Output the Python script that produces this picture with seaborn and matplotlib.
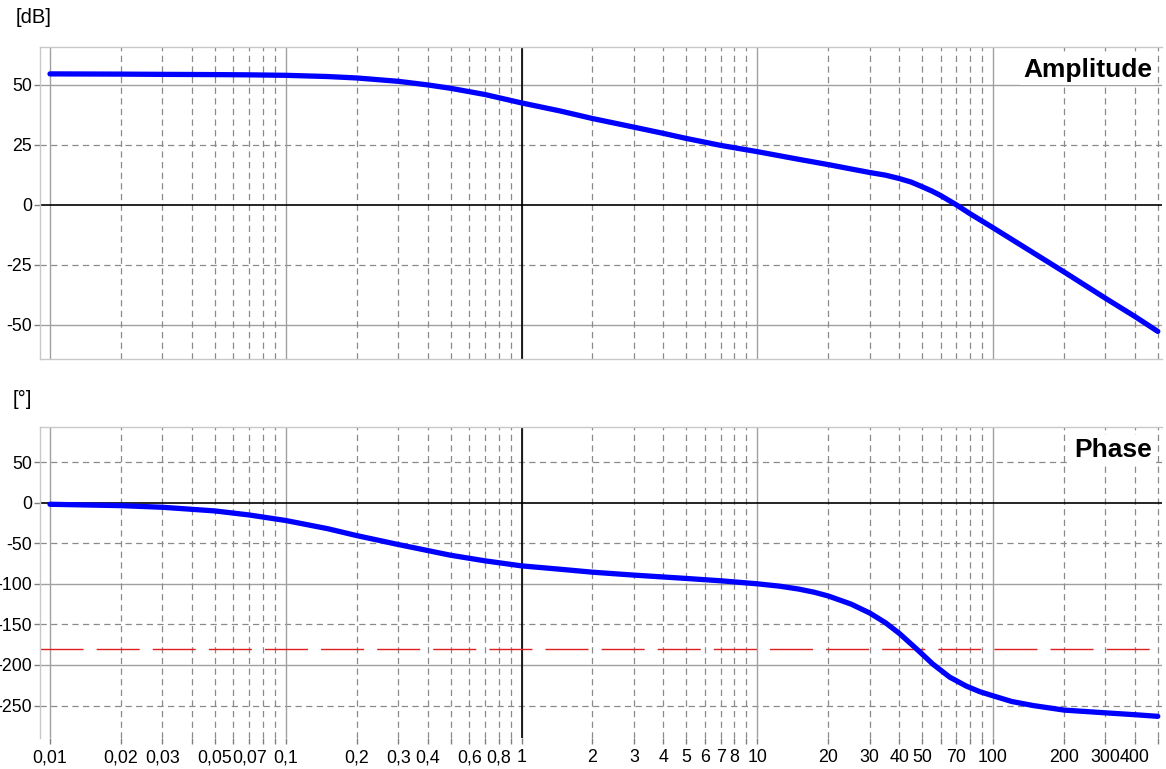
import numpy as np
import pandas as pd
import matplotlib
matplotlib.use("Agg")
import matplotlib.pyplot as plt
from matplotlib.ticker import LogLocator, FuncFormatter, MultipleLocator, NullFormatter
import seaborn as sns

# values
freq_amp = [0.01, 0.02, 0.03, 0.05, 0.07, 0.1, 0.15, 0.2, 0.3, 0.4, 0.5, 0.7, 1, 1.45, 2, 3, 4, 5, 7,
            10, 15, 20, 30, 35, 40, 45, 50, 55, 60, 70, 80, 100, 200, 300, 400, 500]
amp_db = [54.6, 54.5, 54.4, 54.3, 54.2, 54.0, 53.5, 52.9, 51.5, 50.0, 48.6, 46.0, 42.5, 39.2, 36.0, 32.4,
          29.8, 27.7, 24.8, 22.2, 19.0, 16.8, 13.5, 12.4, 11.0, 9.5, 7.6, 5.8, 3.9, 0.0, -3.7, -9.5,
          -27.9, -38.9, -46.5, -52.7]

freq_phase = [0.01, 0.02, 0.03, 0.05, 0.07, 0.1, 0.15, 0.2, 0.3, 0.5, 0.7, 1, 1.45, 2, 3, 5, 7,
              10, 12.5, 15, 17.5, 20, 25, 30, 35, 40, 47.3, 55.6, 65.5, 77, 88, 100, 120, 148, 200,
              300, 400, 500]
phase_deg = [-2, -3.7, -5.7, -10.2, -15.2, -22, -32, -40.6, -51.6, -64.8, -71.7, -77.9, -82, -85.7, -89.3,
             -93.4, -96.3, -100, -103, -106.5, -110.5, -115, -125, -136, -148, -161, -180, -199, -215,
             -226, -233, -238, -245, -250, -255.6, -259, -261.3, -263.3]

# x tick labels that are shown (the others stay as plain ticks)
x_labels_shown = [0.01, 0.02, 0.03, 0.05, 0.07, 0.1, 0.2, 0.3, 0.4, 0.6, 0.8, 1, 2, 3, 4, 5, 6, 7, 8,
                  10, 20, 30, 40, 50, 70, 100, 200, 300, 400]
phase_crossover = -180

amp_df = pd.DataFrame({"f": freq_amp, "dB": amp_db})
phase_df = pd.DataFrame({"f": freq_phase, "deg": phase_deg})

sns.set_style("white")
plt.rcParams["font.family"] = ["Liberation Sans", "DejaVu Sans"]
plt.rcParams["axes.unicode_minus"] = False
plt.rcParams["text.color"] = "black"

fig = plt.figure(figsize=(11.66, 7.69), dpi=100)
ax_a = fig.add_axes([0.03431, 0.53316, 0.96226, 0.40572])
ax_p = fig.add_axes([0.03431, 0.04031, 0.96226, 0.40442])

grid_solid = "#a0a0a0"
grid_dash = "#8a8a8a"


def fmt_x(v, pos):
    for s in x_labels_shown:
        if abs(v - s) / s < 1e-6:
            return f"{s:g}".replace(".", ",")
    return ""


def style_axes(ax, ylim, step, solid_every, show_x):
    ax.set_xscale("log")
    ax.set_xlim(0.00907, 521)
    ax.set_ylim(*ylim)
    ax.xaxis.set_major_locator(LogLocator(base=10))
    ax.xaxis.set_minor_locator(LogLocator(base=10, subs=np.arange(2, 10)))
    ax.yaxis.set_major_locator(MultipleLocator(step))
    ax.grid(True, which="major", axis="x", color=grid_solid, lw=1, ls="-")
    ax.grid(True, which="minor", axis="x", color=grid_dash, lw=0.9, ls=(0, (5, 3.5)))
    ax.set_axisbelow(True)
    for v in ax.get_yticks():
        if ylim[0] < v < ylim[1] and v != 0:
            if v % solid_every == 0:
                ax.axhline(v, color=grid_solid, lw=1, zorder=0.5)
            else:
                ax.axhline(v, color=grid_dash, lw=0.9, ls=(0, (5, 3.5)), zorder=0.5)
    ax.axhline(0, color="black", lw=1.2, zorder=1)
    ax.axvline(1, color="black", lw=1.2, zorder=1)
    for side in ["top", "left", "bottom"]:
        ax.spines[side].set_color("#c8c8c8")
        ax.spines[side].set_linewidth(1)
    ax.spines["right"].set_visible(False)
    ax.tick_params(axis="y", which="both", left=True, length=4.5, width=1, color="#808080",
                   labelsize=12.8, pad=1, labelcolor="black")
    if show_x:
        ax.spines["bottom"].set_visible(False)
        ax.xaxis.set_major_formatter(FuncFormatter(fmt_x))
        ax.xaxis.set_minor_formatter(FuncFormatter(fmt_x))
        ax.tick_params(axis="x", which="both", bottom=True, length=4, width=1, color="#808080",
                       labelsize=12.8, pad=4, labelcolor="black")
    else:
        ax.xaxis.set_major_formatter(NullFormatter())
        ax.xaxis.set_minor_formatter(NullFormatter())
        ax.tick_params(axis="x", which="both", bottom=False, length=0)
    ax.set_xlabel("")
    ax.set_ylabel("")


# amplitude
sns.lineplot(data=amp_df, x="f", y="dB", ax=ax_a, color="#0000ff", linewidth=3.8,
             estimator=None, sort=False, solid_capstyle="round", solid_joinstyle="round", zorder=3)
style_axes(ax_a, (-64.2, 65.8), 25, 50, False)
ax_a.text(0.991, 0.904, "Amplitude", transform=ax_a.transAxes, ha="right", va="baseline",
          fontsize=19, fontweight="bold", color="black", zorder=4,
          bbox=dict(boxstyle="square,pad=0.12", fc="white", ec="none"))

# phase
sns.lineplot(data=phase_df, x="f", y="deg", ax=ax_p, color="#0000ff", linewidth=3.8,
             estimator=None, sort=False, solid_capstyle="round", solid_joinstyle="round", zorder=3)
style_axes(ax_p, (-290, 93.2), 50, 100, True)
ax_p.axhline(phase_crossover, color="#e02020", lw=1, ls=(0, (31, 9.4)), zorder=2)
ax_p.text(0.991, 0.903, "Phase", transform=ax_p.transAxes, ha="right", va="baseline",
          fontsize=19, fontweight="bold", color="black", zorder=4,
          bbox=dict(boxstyle="square,pad=0.12", fc="white", ec="none"))

fig.text(0.0137, 0.977, "[dB]", ha="left", va="center", fontsize=14.5)
fig.text(0.0109, 0.481, "[°]", ha="left", va="center", fontsize=14.5)

fig.savefig("out.png", dpi=100)
